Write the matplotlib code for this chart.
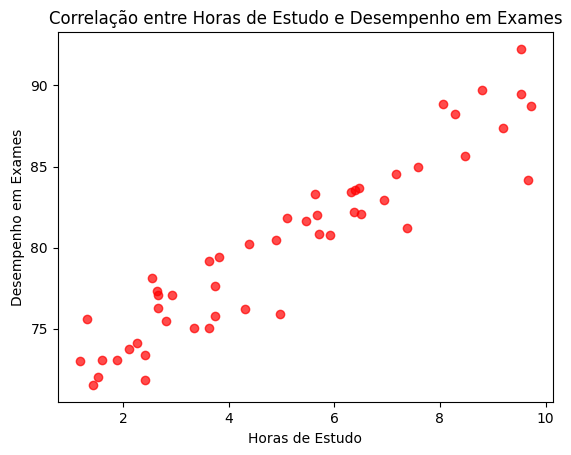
import matplotlib
matplotlib.use("Agg")
import matplotlib.pyplot as plt

horas = [1.19, 1.32, 1.44, 1.53, 1.61, 1.89, 2.11, 2.27, 2.41, 2.41,
         2.55, 2.64, 2.66, 2.66, 2.81, 2.92, 3.35, 3.62, 3.62, 3.74,
         3.74, 3.82, 4.31, 4.38, 4.90, 4.97, 5.10, 5.46, 5.63, 5.68,
         5.72, 5.92, 6.32, 6.40, 6.47, 6.38, 6.50, 6.95, 7.16, 7.37,
         7.58, 8.06, 8.28, 8.48, 8.79, 9.19, 9.53, 9.54, 9.72, 9.67]

desempenho = [73.00, 75.59, 71.52, 72.07, 73.06, 73.12, 73.74, 74.11, 73.37, 71.85,
              78.11, 77.33, 77.10, 76.32, 75.46, 77.06, 75.03, 75.03, 79.16, 77.62,
              75.77, 79.40, 76.20, 80.21, 80.45, 75.95, 81.81, 81.62, 83.31, 81.99,
              80.82, 80.76, 83.41, 83.55, 83.66, 82.20, 82.05, 82.92, 84.52, 81.19,
              84.95, 88.83, 88.21, 85.63, 89.69, 87.35, 92.22, 89.45, 88.71, 84.15]

fig = plt.figure(figsize=(5.71, 4.55), dpi=100)
ax = fig.add_axes([0.101, 0.1158, 0.868, 0.813])
ax.scatter(horas, desempenho, color="red", alpha=0.7)
ax.set_title("Correlação entre Horas de Estudo e Desempenho em Exames")
ax.set_xlabel("Horas de Estudo")
ax.set_ylabel("Desempenho em Exames")
fig.savefig("out.png", dpi=100)
